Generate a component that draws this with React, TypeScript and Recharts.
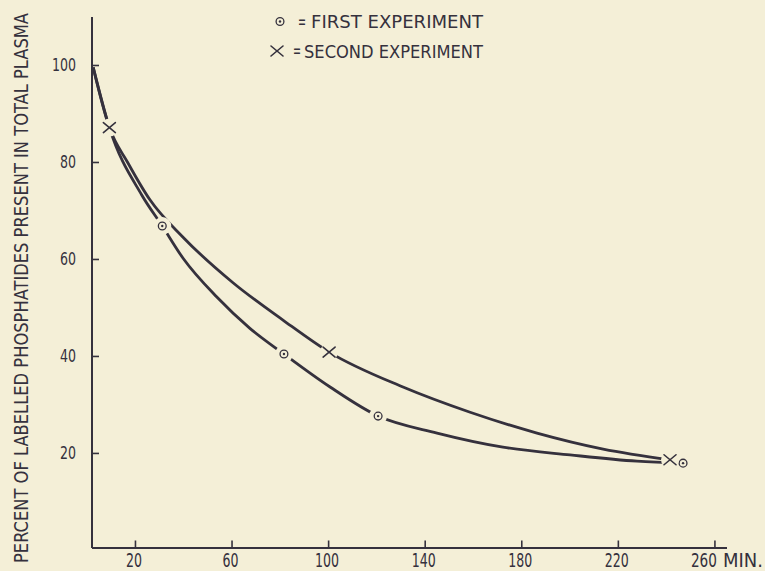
import { Customized, Line, LineChart, XAxis, YAxis } from "recharts";

// minutes after injection / percent of labelled phosphatides still in plasma,
// read along each drawn curve; "marked" = an experimental point symbol sits there
const firstMinutes = [2.5, 9.2, 22.6, 31.1, 39.8, 53.6, 67.4, 81.5, 100.6, 120.5, 144.9, 172.2, 200.0, 227.7, 246.8];
const firstPercent = [99.6, 87.2, 73.3, 66.9, 60.2, 52.3, 45.8, 40.5, 33.7, 27.7, 24.2, 21.3, 19.7, 18.4, 18.0];
const firstMarked = [false, false, false, true, false, false, false, true, false, true, false, false, false, false, true];

const secondMinutes = [2.5, 9.2, 16.9, 26.0, 39.7, 60.4, 81.1, 100.2, 130.8, 158.6, 186.3, 213.7, 241.4];
const secondPercent = [99.6, 87.2, 79.9, 72.3, 64.6, 55.2, 47.5, 40.9, 33.7, 28.5, 24.2, 20.9, 18.7];
const secondMarked = [false, true, false, false, false, false, false, true, false, false, false, false, true];

const xTicks = [20, 60, 100, 140, 180, 220, 260];
const yTicks = [20, 40, 60, 80, 100];

const yLabel = "PERCENT OF LABELLED PHOSPHATIDES PRESENT IN TOTAL PLASMA";
const legendFirst = "FIRST EXPERIMENT";
const legendSecond = "SECOND EXPERIMENT";

const BG = "#f4efd7";
const INK = "#35313d";
const FONT = "'DejaVu Sans Condensed', 'DejaVu Sans', sans-serif";

const firstData = firstMinutes.map((t, i) => ({ t, pct: firstPercent[i], mark: firstMarked[i] }));
const secondData = secondMinutes.map((t, i) => ({ t, pct: secondPercent[i], mark: secondMarked[i] }));

function Ring({ cx, cy }: { cx: number; cy: number }) {
  return (
    <g>
      <circle cx={cx} cy={cy} r={3.9} fill="none" stroke={INK} strokeWidth={1.3} />
      <circle cx={cx} cy={cy} r={1.2} fill={INK} />
    </g>
  );
}

function Cross({ cx, cy }: { cx: number; cy: number }) {
  return (
    <g stroke={INK} strokeWidth={1.6} strokeLinecap="round">
      <line x1={cx - 6} y1={cy - 5} x2={cx + 6} y2={cy + 5} />
      <line x1={cx - 6} y1={cy + 5} x2={cx + 6} y2={cy - 5} />
    </g>
  );
}

// the drawn curves stop short of each point symbol, so each symbol gets a paper-coloured halo
const makeDot = (kind: "ring" | "cross") => (props: any) => {
  const { cx, cy, payload, index } = props;
  if (!payload.mark) return <g key={`${kind}-${index}`} />;
  return (
    <g key={`${kind}-${index}`}>
      <circle cx={cx} cy={cy} r={9} fill={BG} />
      {kind === "ring" ? <Ring cx={cx} cy={cy} /> : <Cross cx={cx} cy={cy} />}
    </g>
  );
};

function Txt({ x, base, len, size, children }: any) {
  return (
    <text
      x={x}
      y={base}
      fontSize={size}
      fontFamily={FONT}
      fill={INK}
      textLength={len}
      lengthAdjust="spacingAndGlyphs"
    >
      {children}
    </text>
  );
}

function YTick({ x, y, payload }: any) {
  const s = String(payload.value);
  const len = s.length * 8;
  return (
    <g>
      <line x1={x} y1={y} x2={x + 7} y2={y} stroke={INK} strokeWidth={1.6} />
      <Txt x={x - 16 - len} base={y + 6} len={len} size={17}>
        {s}
      </Txt>
    </g>
  );
}

function XTick({ x, y, payload }: any) {
  const s = String(payload.value);
  const len = s.length * 8;
  return (
    <g>
      <line x1={x} y1={y} x2={x} y2={y - 7.5} stroke={INK} strokeWidth={1.6} />
      {payload.value === 260 ? (
        <>
          <Txt x={x - 24} base={y + 19} len={26} size={19}>
            {s}
          </Txt>
          <Txt x={x + 8} base={y + 19} len={40} size={19}>
            MIN.
          </Txt>
        </>
      ) : (
        <Txt x={x - 1.5 - len / 2} base={y + 19} len={len} size={19}>
          {s}
        </Txt>
      )}
    </g>
  );
}

function YLabel() {
  return (
    <g transform="translate(21,288) rotate(-90)">
      <Txt x={-275} base={7} len={550} size={19.5}>
        {yLabel}
      </Txt>
    </g>
  );
}

function LegendMarks() {
  return (
    <g>
      <Ring cx={280} cy={21.5} />
      <Txt x={298} base={27.5} len={8} size={19}>
        =
      </Txt>
      <Txt x={311} base={28} len={172} size={18.5}>
        {legendFirst}
      </Txt>
      <Cross cx={277} cy={51} />
      <Txt x={293} base={57} len={8} size={19}>
        =
      </Txt>
      <Txt x={304} base={57.5} len={179} size={18.5}>
        {legendSecond}
      </Txt>
    </g>
  );
}

export default function App() {
  return (
    <div style={{ position: "absolute", left: 0, top: 0, width: 765, height: 571, background: BG }}>
      <LineChart width={765} height={571} margin={{ top: 17, right: 38, left: 0, bottom: 0 }}>
        <XAxis
          type="number"
          dataKey="t"
          domain={[2, 265]}
          ticks={xTicks}
          interval={0}
          tick={<XTick />}
          tickSize={0}
          tickMargin={0}
          tickLine={false}
          axisLine={{ stroke: INK, strokeWidth: 2 }}
          height={23}
          allowDataOverflow
        />
        <YAxis
          type="number"
          domain={[0.5, 110]}
          ticks={yTicks}
          interval={0}
          tick={<YTick />}
          tickSize={0}
          tickMargin={0}
          tickLine={false}
          axisLine={{ stroke: INK, strokeWidth: 2 }}
          width={92}
          allowDataOverflow
          label={<YLabel />}
        />
        <Line
          data={firstData}
          dataKey="pct"
          type="monotone"
          stroke={INK}
          strokeWidth={2.8}
          dot={makeDot("ring")}
          activeDot={false}
          isAnimationActive={false}
        />
        <Line
          data={secondData}
          dataKey="pct"
          type="monotone"
          stroke={INK}
          strokeWidth={2.8}
          dot={makeDot("cross")}
          activeDot={false}
          isAnimationActive={false}
        />
        <Customized component={LegendMarks} />
      </LineChart>
    </div>
  );
}
